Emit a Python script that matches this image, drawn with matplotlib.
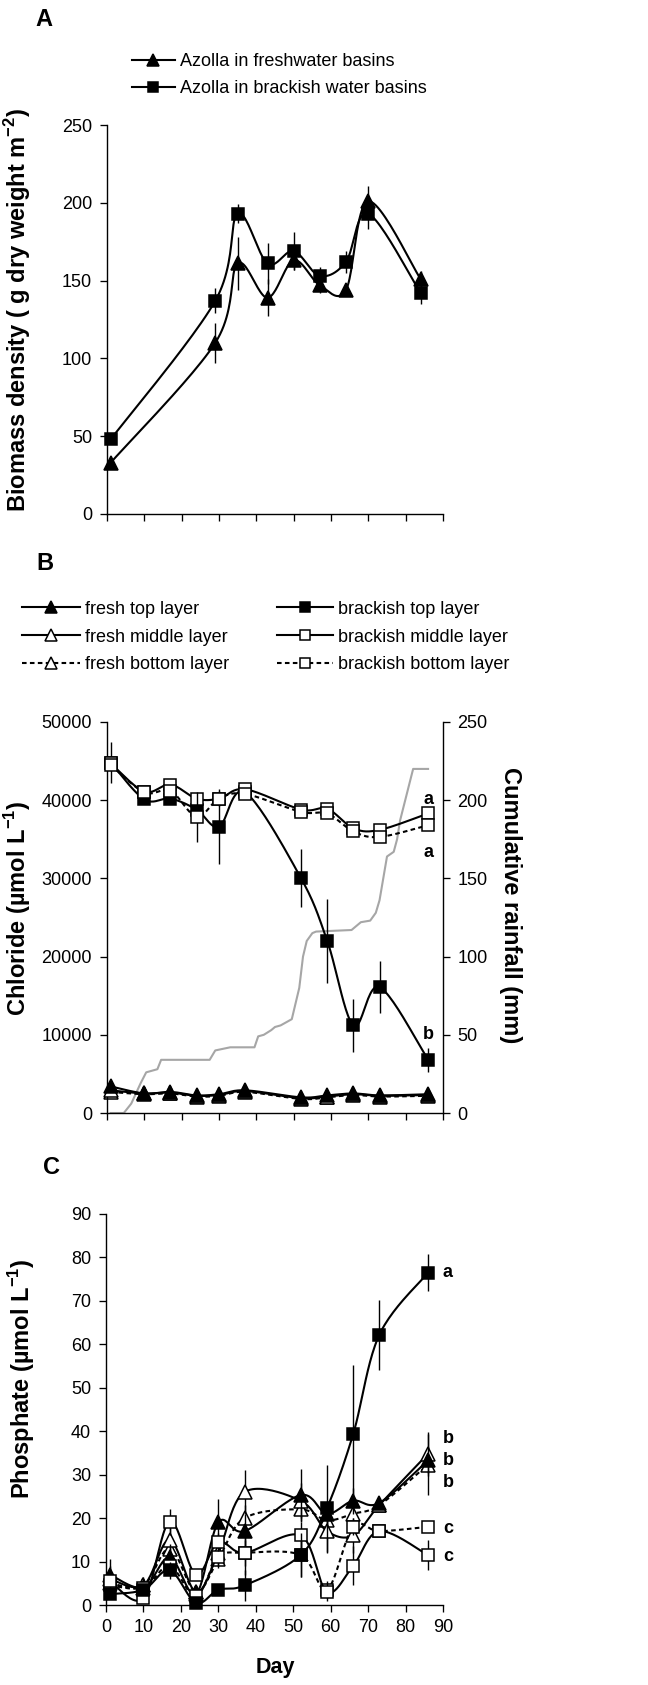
import numpy as np
import matplotlib
matplotlib.use("Agg")
import matplotlib.pyplot as plt
from matplotlib.lines import Line2D

plt.rcParams['font.family'] = ['Liberation Sans', 'DejaVu Sans']
plt.rcParams['mathtext.fontset'] = 'custom'
plt.rcParams['mathtext.rm'] = 'Liberation Sans'
plt.rcParams['mathtext.bf'] = 'Liberation Sans:bold'

# ---- panel A: biomass ----
days_a = [1, 29, 35, 43, 50, 57, 64, 70, 84]
fresh_a = [33, 110, 161, 139, 163, 147, 144, 201, 151]
fresh_a_err = [3, 13, 17, 12, 6, 5, 4, 10, 5]
brack_a = [48, 137, 193, 161, 169, 153, 162, 193, 142]
brack_a_err = [3, 8, 6, 13, 12, 6, 7, 10, 7]

# ---- panel B: chloride ----
days = [1, 10, 17, 24, 30, 37, 52, 59, 66, 73, 86]
cl_fresh_top = [3400, 2500, 2700, 2250, 2400, 2900, 2000, 2250, 2500, 2250, 2400]
cl_fresh_mid = [2900, 2500, 2600, 2200, 2300, 2800, 1900, 2100, 2400, 2200, 2300]
cl_fresh_bot = [2700, 2400, 2500, 2100, 2200, 2700, 1800, 2000, 2300, 2100, 2200]
cl_fresh_err = [500, 200, 200, 200, 200, 200, 200, 200, 200, 200, 200]
cl_brack_top = [44800, 40100, 40200, 38800, 36600, 41000, 30000, 22000, 11200, 16100, 6800]
cl_brack_top_err = [2600, 400, 400, 600, 4800, 400, 3700, 5400, 3400, 3300, 1500]
cl_brack_mid = [44700, 41100, 42000, 40200, 40200, 41400, 38800, 38900, 36400, 36200, 38300]
cl_brack_mid_err = [600, 500, 500, 500, 1000, 500, 500, 600, 500, 500, 600]
cl_brack_bot = [44500, 41000, 41200, 37900, 40200, 40800, 38500, 38300, 36000, 35300, 36800]
cl_brack_bot_err = [600, 500, 500, 3200, 600, 500, 500, 500, 500, 500, 600]

rain_day = [1, 4.5, 6.5, 9, 10.5, 12, 13.5, 14.5, 27.5, 29, 31, 33, 39.5, 40.5, 42, 44,
            45, 46.5, 48, 49.5, 50.5, 51.5, 52.5, 53.5, 55, 56, 65.5, 67, 68, 70.5, 72,
            73, 74, 75, 76.8, 77.7, 78.5, 82, 86]
rain_mm = [0, 0, 6, 19, 26, 27, 28, 34, 34, 40, 41, 42, 42, 49, 50, 53,
           55, 56, 58, 60, 70, 80, 100, 110, 115, 116, 117, 120, 122, 123, 128,
           136, 150, 164, 167, 175, 187, 220, 220]

# ---- panel C: phosphate ----
p_fresh_top = [7, 4, 11, 2.5, 19, 17, 25.3, 21, 24, 23.5, 33.3]
p_fresh_top_err = [3.5, 2, 3, 1, 5.5, 4, 6, 3, 3, 1, 3]
p_fresh_mid = [6, 4.5, 15, 3, 12, 26, 24, 17, 16, 23, 34.8]
p_fresh_mid_err = [3, 2, 5, 1, 3, 5, 4, 5, 4, 1, 5]
p_fresh_bot = [5, 4.5, 13, 3, 10.5, 20, 22, 19.5, 21, 23, 32.3]
p_fresh_bot_err = [2, 1, 3, 1, 2, 3, 3, 3, 3, 1, 7]
p_brack_top = [2.5, 3.5, 8, 0.5, 3.5, 4.5, 11.5, 22.3, 39.3, 62.2, 76.5]
p_brack_top_err = [1, 1, 2, 0.5, 1, 3.5, 5, 10, 16, 8, 4.3]
p_brack_mid = [5.5, 1.5, 19.2, 7, 14.5, 12, 16, 3, 9, 17, 11.5]
p_brack_mid_err = [2, 1, 3, 1, 2, 3, 3, 2, 4.5, 1, 3.5]
p_brack_bot = [4.5, 4, 9, 2, 11, 12, 11.5, 3.5, 18, 17, 18]
p_brack_bot_err = [1, 1, 2, 1, 2, 5, 5, 2, 2, 1, 1]

W, H = 648, 1685
fig = plt.figure(figsize=(W / 100, H / 100), dpi=100)


def px_axes(left, top, right, bottom):
    return fig.add_axes([left / W, 1 - bottom / H, (right - left) / W, (bottom - top) / H])


def smooth(x, y, sx, sy, n=24):
    # excel style smoothed line (catmull-rom in screen units)
    pts = np.column_stack([np.asarray(x, float) * sx, np.asarray(y, float) * sy])
    ext = np.vstack([pts[:1], pts, pts[-1:]])
    out = []
    t = np.linspace(0, 1, n, endpoint=False)[:, None]
    for i in range(1, len(ext) - 2):
        p0, p1, p2, p3 = ext[i - 1], ext[i], ext[i + 1], ext[i + 2]
        seg = 0.5 * (2 * p1 + (-p0 + p2) * t + (2 * p0 - 5 * p1 + 4 * p2 - p3) * t ** 2
                     + (-p0 + 3 * p1 - 3 * p2 + p3) * t ** 3)
        out.append(seg)
    out.append(pts[-1:])
    res = np.vstack(out)
    return res[:, 0] / sx, res[:, 1] / sy


def style(ax, ymax, ystep, xlabels=False):
    ax.set_xlim(0, 90)
    ax.set_ylim(0, ymax)
    ax.set_xticks(range(0, 91, 10))
    ax.set_yticks(np.arange(0, ymax + 1, ystep))
    for s in ['top', 'right']:
        ax.spines[s].set_visible(False)
    for s in ['left', 'bottom']:
        ax.spines[s].set_linewidth(1.0)
    ax.tick_params(direction='out', length=4.8, width=0.95, labelsize=13)
    ax.tick_params(axis='y', pad=6)
    ax.tick_params(axis='x', pad=5.5)
    if not xlabels:
        ax.set_xticklabels([])


def series(ax, x, y, err, marker, mfc, ls, sx, sy, z, ms=8.5):
    xs, ys = smooth(x, y, sx, sy)
    ax.plot(xs, ys, color='k', lw=1.5, ls=ls, zorder=z)
    ax.errorbar(x, y, yerr=err, fmt='none', ecolor='k', elinewidth=1.0, capsize=0, zorder=z)
    ax.plot(x, y, ls='none', marker=marker, ms=ms, mfc=mfc, mec='k', mew=1.1,
            zorder=z + 0.1, clip_on=False)
    return Line2D([], [], color='k', lw=1.5, ls=ls, marker=marker, ms=ms - 1.5,
                  mfc=mfc, mec='k', mew=1.1)


dash = (0, (2.2, 1.6))
fs_leg = 13

# ---------------- A ----------------
axA = px_axes(107, 125, 443, 514)
style(axA, 250, 50)
sx = 336 / 90
hA1 = series(axA, days_a, fresh_a, fresh_a_err, '^', 'k', '-', sx, 389 / 250, 3, ms=9.5)
hA2 = series(axA, days_a, brack_a, brack_a_err, 's', 'k', '-', sx, 389 / 250, 4)
fig.legend([hA1, hA2], ['Azolla in freshwater basins', 'Azolla in brackish water basins'],
           loc='center left', bbox_to_anchor=(132 / W, 1 - 75 / H), frameon=False,
           borderpad=0, borderaxespad=0, handlelength=2.38, handletextpad=0.28,
           labelspacing=0.55, fontsize=fs_leg)

# ---------------- B ----------------
axB = px_axes(107, 722, 443, 1113)
style(axB, 50000, 10000)
axR = axB.twinx()
axR.set_ylim(0, 250)
axR.set_yticks(range(0, 251, 50))
for s in ['top', 'left', 'bottom']:
    axR.spines[s].set_visible(False)
axR.spines['right'].set_linewidth(1.0)
axR.tick_params(direction='out', length=4.8, width=0.95, labelsize=13, pad=5.5)
axR.plot(rain_day, rain_mm, color='#a6a6a6', lw=1.5)
axB.set_zorder(axR.get_zorder() + 1)
axB.patch.set_visible(False)

syB = 391 / 50000
hB = [
    series(axB, days, cl_fresh_top, cl_fresh_err, '^', 'k', '-', sx, syB, 3, ms=9.5),
    series(axB, days, cl_fresh_mid, cl_fresh_err, '^', 'white', '-', sx, syB, 2.5, ms=9.5),
    series(axB, days, cl_fresh_bot, cl_fresh_err, '^', 'white', dash, sx, syB, 2, ms=9.5),
    series(axB, days, cl_brack_top, cl_brack_top_err, 's', 'k', '-', sx, syB, 4),
    series(axB, days, cl_brack_mid, cl_brack_mid_err, 's', 'white', '-', sx, syB, 5),
    series(axB, days, cl_brack_bot, cl_brack_bot_err, 's', 'white', dash, sx, syB, 6),
]
labels_b = ['fresh top layer', 'fresh middle layer', 'fresh bottom layer',
            'brackish top layer', 'brackish middle layer', 'brackish bottom layer']
fig.legend(hB[:3], labels_b[:3], loc='center left', bbox_to_anchor=(22 / W, 1 - 637 / H),
           frameon=False, borderpad=0, borderaxespad=0, handlelength=3.2,
           handletextpad=0.28, labelspacing=0.6, fontsize=fs_leg)
fig.legend(hB[3:], labels_b[3:], loc='center left', bbox_to_anchor=(277 / W, 1 - 637 / H),
           frameon=False, borderpad=0, borderaxespad=0, handlelength=3.1,
           handletextpad=0.28, labelspacing=0.6, fontsize=fs_leg)
for txt, yv in [('a', 40100), ('a', 33300), ('b', 10000)]:
    axB.text(86, yv, txt, ha='center', va='center', fontsize=13, fontweight='bold')

# ---------------- C ----------------
axC = px_axes(106, 1214, 443, 1605)
style(axC, 90, 10, xlabels=True)
syC = 391 / 90
series(axC, days, p_fresh_bot, p_fresh_bot_err, '^', 'white', dash, sx, syC, 2, ms=9.5)
series(axC, days, p_fresh_mid, p_fresh_mid_err, '^', 'white', '-', sx, syC, 2.5, ms=9.5)
series(axC, days, p_fresh_top, p_fresh_top_err, '^', 'k', '-', sx, syC, 3, ms=9.5)
series(axC, days, p_brack_bot, p_brack_bot_err, 's', 'white', dash, sx, syC, 4)
series(axC, days, p_brack_mid, p_brack_mid_err, 's', 'white', '-', sx, syC, 5)
series(axC, days, p_brack_top, p_brack_top_err, 's', 'k', '-', sx, syC, 6)
for txt, yv in [('a', 76.5), ('b', 38.3), ('b', 33.3), ('b', 28.3), ('c', 17.7), ('c', 11.2)]:
    axC.text(91.3, yv, txt, ha='center', va='center', fontsize=13, fontweight='bold',
             clip_on=False)

# ---------------- labels ----------------
bold = dict(fontsize=17, fontweight='bold', ha='center', va='center')
fig.text(44 / W, 1 - 20 / H, 'A', **bold)
fig.text(45 / W, 1 - 563 / H, 'B', **bold)
fig.text(51 / W, 1 - 1167 / H, 'C', **bold)
fig.text(18 / W, 1 - 310 / H, r'Biomass density ( g dry weight m$^{\mathbf{-2}}$)',
         rotation=90, **bold)
fig.text(18 / W, 1 - 908 / H, r'Chloride (µmol L$^{\mathbf{-1}}$)', rotation=90, **bold)
fig.text(511 / W, 1 - 905 / H, 'Cumulative rainfall (mm)', rotation=270, **bold)
fig.text(22 / W, 1 - 1379 / H, r'Phosphate (µmol L$^{\mathbf{-1}}$)', rotation=90, **bold)
fig.text(275 / W, 1 - 1667 / H, 'Day', fontsize=15.5, fontweight='bold', ha='center', va='center')

fig.savefig('out.png', dpi=100)
